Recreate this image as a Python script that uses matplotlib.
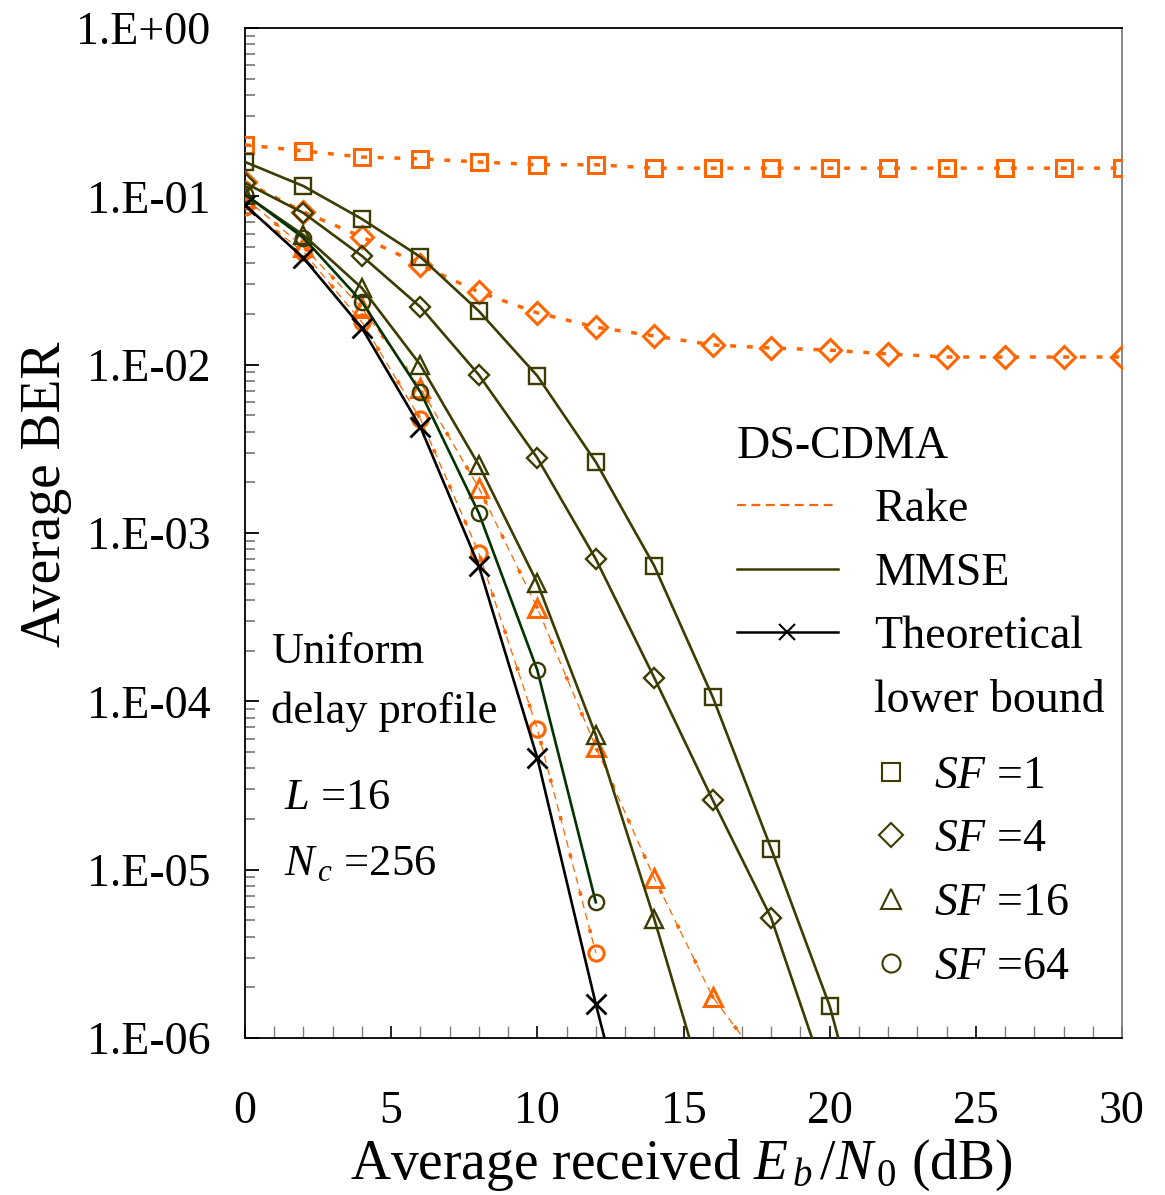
import matplotlib
matplotlib.use('Agg')
import math
import matplotlib.pyplot as plt
from matplotlib.lines import Line2D
from matplotlib.ticker import LogLocator, MultipleLocator, FuncFormatter, NullFormatter

# Fonts (Times-like)
plt.rcParams['font.family'] = 'Liberation Serif'
plt.rcParams['mathtext.fontset'] = 'custom'
plt.rcParams['mathtext.rm'] = 'Liberation Serif'
plt.rcParams['mathtext.it'] = 'Liberation Serif:italic'

ORANGE = '#FF6600'
OLIVE = '#3C3C00'
DKGREEN = '#003300'

# Data (Eb/N0 in dB, average BER)
snr_rake_flat = [0, 2, 4, 6, 8, 10, 12, 14, 16, 18, 20, 22, 24, 26, 28, 30]
ber_rake_sf1 = [0.202, 0.186, 0.171, 0.167, 0.160, 0.154, 0.154, 0.147,
                0.147, 0.147, 0.147, 0.147, 0.147, 0.147, 0.147, 0.147]
ber_rake_sf4 = [0.122, 0.0807, 0.0574, 0.0391, 0.0270, 0.0203, 0.0167, 0.0148,
                0.0131, 0.01256, 0.0122, 0.01157, 0.0111, 0.0111, 0.0111, 0.0111]

snr_rake_sf16 = [0, 2, 4, 6, 8, 10, 12, 14, 16, 18]
ber_rake_sf16 = [0.0977, 0.050, 0.0217, 0.00727, 0.00185, 3.58e-4, 5.35e-5,
                 8.9e-6, 1.75e-6, 6e-7]
snr_rake_sf64 = [0, 2, 4, 6, 8, 10, 12]
ber_rake_sf64 = [0.0864, 0.0467, 0.0179, 0.00475, 7.6e-4, 6.85e-5, 3.2e-6]

snr_mmse_sf1 = [0, 2, 4, 6, 8, 10, 12, 14, 16, 18, 20, 22]
ber_mmse_sf1 = [0.160, 0.115, 0.0733, 0.0436, 0.0208, 0.00857, 0.00264,
                6.37e-4, 1.06e-4, 1.33e-5, 1.55e-6, 8e-8]
snr_mmse_sf4 = [0, 2, 4, 6, 8, 10, 12, 14, 16, 18, 20]
ber_mmse_sf4 = [0.120, 0.0796, 0.0442, 0.0220, 0.00869, 0.00279, 7.0e-4,
                1.38e-4, 2.59e-5, 5.16e-6, 4.9e-7]
snr_mmse_sf16 = [0, 2, 4, 6, 8, 10, 12, 14, 16]
ber_mmse_sf16 = [0.102, 0.0589, 0.0285, 0.00995, 0.00253, 5.05e-4, 6.3e-5,
                 5.09e-6, 3.4e-7]
snr_mmse_sf64 = [0, 2, 4, 6, 8, 10, 12]
ber_mmse_sf64 = [0.103, 0.0566, 0.0236, 0.00688, 1.31e-3, 1.53e-4, 6.4e-6]

snr_theory = [0, 2, 4, 6, 8, 10, 12, 14]
ber_theory = [0.0888, 0.043, 0.0165, 0.00426, 6.37e-4, 4.6e-5, 1.59e-6, 7e-8]

sf_labels = ['$SF$ =1', '$SF$ =4', '$SF$ =16', '$SF$ =64']

fig = plt.figure(figsize=(11.65, 11.95), dpi=100)
ax = fig.add_axes([0.2103, 0.1314, 0.7528, 0.8452])
ax.set_yscale('log')

# Rake (orange, dotted / dashed)
ax.plot(snr_rake_flat, ber_rake_sf1, color=ORANGE, lw=2.5, dashes=(1.7, 3.1),
        marker='s', ms=12, mfc='none', mec=ORANGE, mew=2.2, zorder=3)
ax.plot(snr_rake_flat, ber_rake_sf4, color=ORANGE, lw=2.5, dashes=(1.7, 3.1),
        marker='D', ms=11, mfc='none', mec=ORANGE, mew=2.2, zorder=3)
for xs, ys, m, n in [(snr_rake_sf16, ber_rake_sf16, '^', 9),
                     (snr_rake_sf64, ber_rake_sf64, 'o', 7)]:
    ax.plot(xs, ys, color=ORANGE, lw=0.9, dashes=(6, 4), zorder=3)
    ax.plot(xs, ys, color=ORANGE, lw=2.5, dashes=(1.2, 10), zorder=3)
    ax.plot(xs[:n], ys[:n], ls='none', marker=m, ms=13 if m == '^' else 11,
            mfc='none', mec=ORANGE, mew=2.2, zorder=4)

# MMSE (olive, solid)
ax.plot(snr_mmse_sf1, ber_mmse_sf1, color=OLIVE, lw=1.9, marker='s', ms=11,
        mfc='none', mec=OLIVE, mew=1.7, markevery=slice(0, 11), zorder=5)
ax.plot(snr_mmse_sf4, ber_mmse_sf4, color=OLIVE, lw=1.9, marker='D', ms=10,
        mfc='none', mec=OLIVE, mew=1.7, markevery=slice(0, 10), zorder=5)
ax.plot(snr_mmse_sf16, ber_mmse_sf16, color=OLIVE, lw=1.9, marker='^', ms=13,
        mfc='none', mec=OLIVE, mew=1.7, markevery=slice(0, 8), zorder=5)
ax.plot(snr_mmse_sf64, ber_mmse_sf64, color=DKGREEN, lw=1.9, marker='o', ms=11,
        mfc='none', mec=OLIVE, mew=1.7, zorder=5)

# Theoretical lower bound
ax.plot(snr_theory, ber_theory, color='black', lw=1.9, marker='x', ms=15,
        mew=2.0, markevery=slice(0, 7), zorder=6)

ax.set_xlim(0, 30)
ax.set_ylim(1e-6, 1)

ax.xaxis.set_major_locator(MultipleLocator(5))
ax.xaxis.set_minor_locator(MultipleLocator(1))
ax.yaxis.set_major_locator(LogLocator(base=10, numticks=10))
ax.yaxis.set_minor_locator(LogLocator(base=10, subs=range(2, 10), numticks=100))
ax.yaxis.set_minor_formatter(NullFormatter())
ax.yaxis.set_major_formatter(FuncFormatter(lambda v, p: '1.E%+03d' % round(math.log10(v))))

ax.tick_params(which='both', direction='in', top=False, right=False,
               labelsize=33)
ax.tick_params(axis='y', which='major', length=10, width=1.3, pad=25)
ax.tick_params(axis='y', which='minor', length=7, width=1.3, color='#808080')
ax.tick_params(axis='x', which='major', length=9, width=1.2, pad=38)
ax.tick_params(axis='x', which='minor', length=9, width=1.0, color='#808080')
for s in ['left', 'bottom', 'top']:
    ax.spines[s].set_linewidth(1.3)
ax.spines['right'].set_color('#808080')
ax.spines['right'].set_linewidth(1.3)

ax.set_xlabel(r'Average received $E_{\,b}\,/N_{\,0}$ (dB)', fontsize=40)
ax.xaxis.set_label_coords(0.497, -0.099)
ax.set_ylabel('Average BER', fontsize=40)
ax.yaxis.set_label_coords(-0.197, 0.538)

# Annotations
ax.text(0.03, 0.382, 'Uniform', transform=ax.transAxes, fontsize=32,
        ha='left', va='center')
ax.text(0.03, 0.323, 'delay profile', transform=ax.transAxes, fontsize=32,
        ha='left', va='center')
ax.text(0.045, 0.238, '$L$ =16', transform=ax.transAxes, fontsize=32,
        ha='left', va='center')
ax.text(0.045, 0.172, r'$N_{\,c}$ =256', transform=ax.transAxes, fontsize=32,
        ha='left', va='center')

# Legend 1: receivers
h_rake = Line2D([], [], color=ORANGE, lw=1.6, dashes=(4, 2.5))
h_mmse = Line2D([], [], color=OLIVE, lw=1.8)
h_theo = Line2D([], [], color='black', lw=1.8, marker='x', ms=12, mew=1.5)
h_blank = Line2D([], [], color='none')
leg1 = ax.legend([h_rake, h_mmse, h_theo, h_blank],
                 ['Rake', 'MMSE', 'Theoretical', 'lower bound'],
                 title='DS-CDMA', title_fontsize=33, fontsize=33, frameon=False,
                 loc='upper left', bbox_to_anchor=(0.540, 0.625),
                 handlelength=2.2, handletextpad=0.8, labelspacing=0.46,
                 borderaxespad=0, alignment='left')
ax.add_artist(leg1)

# Legend 2: spreading factors
mk = ['s', 'D', '^', 'o']
msz = [13, 12, 15, 13]
h_sf = [Line2D([], [], ls='none', marker=m, ms=s, mfc='none', mec=OLIVE, mew=1.5)
        for m, s in zip(mk, msz)]
ax.legend(h_sf, sf_labels, fontsize=33, frameon=False, loc='upper left',
          bbox_to_anchor=(0.689, 0.298), handlelength=1.0, handletextpad=0.45,
          labelspacing=0.46, borderaxespad=0)

fig.savefig('out.png', dpi=100)
